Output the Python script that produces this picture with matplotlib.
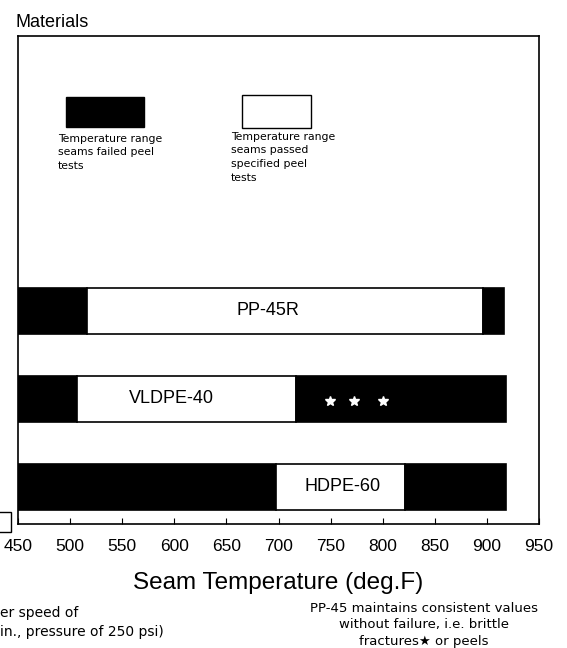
import numpy as np
import matplotlib.pyplot as plt
from matplotlib.patches import Rectangle

plt.rcParams['font.family'] = ['Liberation Sans', 'DejaVu Sans']

materials = ['HDPE-60', 'VLDPE-40', 'PP-45R']
ypos = [1, 2, 3]
# temperature segments (start, end, passed?) per material, deg F
segments = {
    'PP-45R':   [(450, 516, False), (516, 896, True), (896, 916, False)],
    'VLDPE-40': [(450, 507, False), (507, 717, True), (717, 918, False)],
    'HDPE-60':  [(450, 698, False), (698, 821, True), (821, 918, False)],
}
label_x = {'PP-45R': 690, 'VLDPE-40': 597, 'HDPE-60': 761}
star_temps = [749, 772, 800]   # brittle fractures on VLDPE-40
xticks = np.arange(450, 951, 50)

fig = plt.figure(figsize=(5.67, 6.48), dpi=100)
ax = fig.add_axes([0.0317, 0.192, 0.919, 0.752])

for m, y in zip(materials, ypos):
    for a, b, ok in segments[m]:
        ax.barh(y, b - a, left=a, height=0.52, color='white' if ok else 'black',
                edgecolor='black', linewidth=1.2)
    ax.text(label_x[m], y, m, ha='center', va='center', fontsize=13)

ax.plot(star_temps, [1.97] * len(star_temps), ls='none', marker='*', color='white',
        markersize=7)

ax.set_xlim(450, 950)
ax.set_ylim(0.585, 6.11)
ax.set_yticks([])
ax.set_xticks(xticks)
ax.tick_params(axis='x', direction='in', length=4, pad=11, labelsize=12.5)
for s in ax.spines.values():
    s.set_linewidth(1.2)
ax.set_xlabel('Seam Temperature (deg.F)', fontsize=17.5, labelpad=13)

# legend drawn inside the box
ax.add_patch(Rectangle((0.092, 0.814), 0.149, 0.061, transform=ax.transAxes,
                       facecolor='black', edgecolor='black'))
ax.add_patch(Rectangle((0.429, 0.811), 0.134, 0.068, transform=ax.transAxes,
                       facecolor='white', edgecolor='black', linewidth=1))
ax.text(0.077, 0.800, 'Temperature range\nseams failed peel\ntests',
        transform=ax.transAxes, ha='left', va='top', fontsize=7.8,
        family='DejaVu Sans', linespacing=1.45)
ax.text(0.409, 0.804, 'Temperature range\nseams passed\nspecified peel\ntests',
        transform=ax.transAxes, ha='left', va='top', fontsize=7.8,
        family='DejaVu Sans', linespacing=1.45)

fig.text(0.028, 0.966, 'Materials', ha='left', va='center', fontsize=13)

# partly cut-off notes at the bottom
fig.patches.append(Rectangle((-0.01, 0.179), 0.03, 0.031, transform=fig.transFigure,
                             facecolor='white', edgecolor='black', linewidth=1))
fig.text(0.0, 0.054, 'er speed of', ha='left', va='center', fontsize=10,
         family='DejaVu Sans')
fig.text(0.0, 0.025, 'in., pressure of 250 psi)', ha='left', va='center', fontsize=10,
         family='DejaVu Sans')
fig.text(0.748, 0.036, 'PP-45 maintains consistent values\nwithout failure, i.e. brittle\nfractures\u2605 or peels',
         ha='center', va='center', fontsize=9.5, family='DejaVu Sans', linespacing=1.35)

fig.savefig('out.png', dpi=100)
